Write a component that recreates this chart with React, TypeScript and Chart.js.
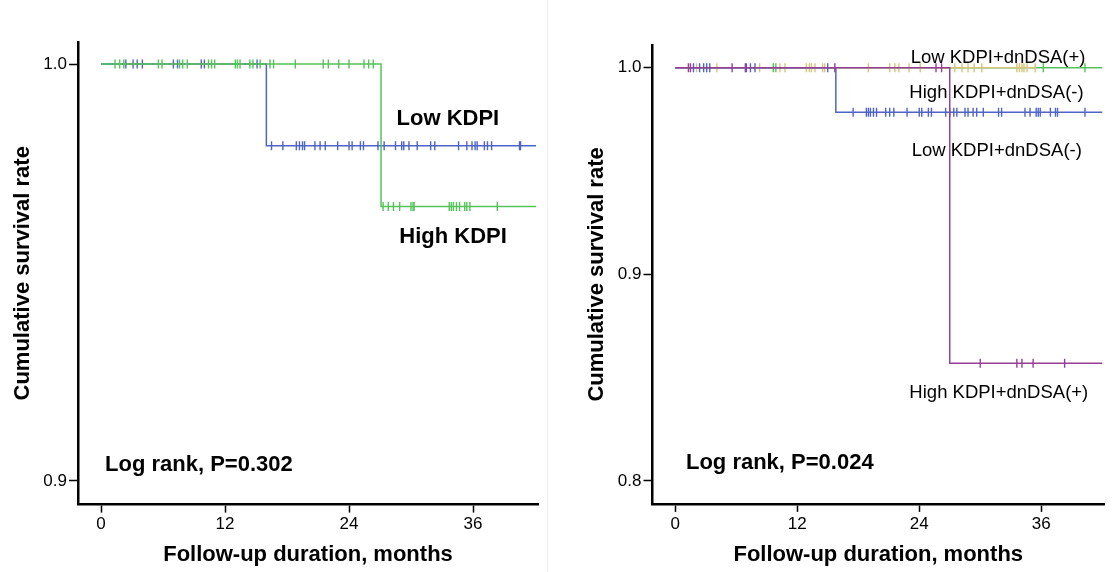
import React, { useEffect, useRef } from "react";
import { Chart, registerables } from "chart.js";

Chart.register(...registerables);

const FONT = '"Liberation Sans", Arial, Helvetica, sans-serif';

// ---- shared tick labels ----
const X_TICKS = [0, 12, 24, 36];
const Y_TICKS_LEFT = [0.9, 1.0];
const Y_TICKS_RIGHT = [0.8, 0.9, 1.0];

// ---- Left panel: KDPI groups ----
const lowKdpiEvents = [16.0];
const lowKdpiSurvival = [0.9804];
const lowKdpiEnd = 42.1;
const lowKdpiCensored = [
  2.4, 3.1, 3.5, 4.0, 7.0, 7.4, 9.7, 10.0, 15.1,
  16.5, 17.6, 18.9, 19.2, 19.5, 19.7, 20.7, 21.2, 21.7, 22.9, 24.0, 24.3, 25.1, 25.4,
  26.8, 27.4, 28.5, 29.1, 29.3, 29.8, 30.6, 31.9, 32.3, 34.6, 35.4, 35.9, 36.2, 36.4,
  37.1, 37.4, 37.8, 40.5, 40.6,
];

const highKdpiEvents = [27.1];
const highKdpiSurvival = [0.9658];
const highKdpiEnd = 42.1;
const highKdpiCensored = [
  1.35, 1.8, 2.2, 5.55, 5.9, 7.6, 7.9, 8.35, 10.4, 10.7, 11.0, 13.0, 13.2, 13.45, 14.4,
  14.7, 15.4, 16.35, 16.7, 18.8, 21.5, 22.0, 23.0, 24.0, 25.45, 25.9, 26.35,
  27.3, 27.8, 28.3, 28.9, 30.0, 30.2, 30.3, 33.7, 33.9, 34.1, 34.4, 34.7, 35.2, 35.4,
  35.7, 38.35,
];

// ---- Right panel: KDPI x dnDSA groups ----
const lowNegEvents = [15.8];
const lowNegSurvival = [0.9784];
const lowNegEnd = 42.0;
const lowNegCensored = [
  1.8, 2.4, 2.8, 3.1, 3.4, 6.9, 7.4, 7.85, 15.0,
  17.5, 18.8, 19.0, 19.2, 19.5, 19.8, 20.7, 21.1, 21.5, 22.8, 24.0, 24.25, 24.9, 25.2,
  26.6, 27.0, 27.4, 27.7, 28.5, 28.8, 29.3, 29.65, 30.3, 31.8, 32.1, 34.4, 34.9, 35.5,
  35.7, 35.9, 36.9, 37.4, 37.6, 40.3,
];

const highNegEvents: number[] = [];
const highNegSurvival: number[] = [];
const highNegEnd = 35.4;
const highNegCensored = [
  2.1, 4.1, 8.3, 10.3, 10.8, 12.9, 13.2, 13.4, 13.75, 14.5, 14.7, 19.0, 21.1, 21.6, 22.0,
  23.0, 24.1, 27.5, 28.2, 28.8, 29.4, 30.15, 33.6, 33.85, 34.1, 34.3, 34.6, 35.4,
];

const lowPosEvents: number[] = [];
const lowPosSurvival: number[] = [];
const lowPosEnd = 42.0;
const lowPosCensored = [9.65, 9.9, 36.2, 40.3];

const highPosEvents = [27.0];
const highPosSurvival = [0.857];
const highPosEnd = 42.0;
const highPosCensored = [1.3, 1.5, 5.6, 7.0, 15.7, 25.65, 26.2, 30.0, 33.6, 34.1, 35.2, 38.3];

// ---- colours ----
const BLUE = "#4f64c6";
const GREEN = "#55c25a";
const PURPLE = "#973f96";
const TAN = "#d4c47e";

function survAt(t: number, events: number[], surv: number[]) {
  let s = 1;
  for (let i = 0; i < events.length; i++) if (events[i] <= t) s = surv[i];
  return s;
}

function groupDatasets(events: number[], surv: number[], end: number, censored: number[], color: string) {
  const curve = [{ x: 0, y: 1 }];
  events.forEach((t, i) => curve.push({ x: t, y: surv[i] }));
  curve.push({ x: end, y: events.length ? surv[surv.length - 1] : 1 });
  return [
    {
      type: "scatter",
      data: censored.map((t) => ({ x: t, y: survAt(t, events, surv) })),
      showLine: false,
      pointStyle: "line",
      rotation: 90,
      pointRadius: 4.5,
      pointHoverRadius: 4.5,
      borderWidth: 1.4,
      pointBorderWidth: 1.4,
      borderColor: color,
      pointBorderColor: color,
      backgroundColor: color,
    },
    {
      type: "scatter",
      data: curve,
      showLine: true,
      stepped: "before",
      pointRadius: 0,
      pointHoverRadius: 0,
      borderWidth: 1.5,
      borderColor: color,
      backgroundColor: color,
      fill: false,
    },
  ];
}

type Note = { text: string; x: number; y: number; bold: boolean; size: number };

function notesPlugin(notes: Note[]) {
  return {
    id: "notes",
    afterDatasetsDraw(chart: any) {
      const ctx = chart.ctx;
      const xs = chart.scales.x;
      const ys = chart.scales.y;
      notes.forEach((n) => {
        ctx.save();
        ctx.font = `${n.bold ? "bold " : ""}${n.size}px ${FONT}`;
        ctx.fillStyle = "#000";
        ctx.textAlign = "left";
        ctx.textBaseline = "alphabetic";
        ctx.fillText(n.text, xs.getPixelForValue(n.x), ys.getPixelForValue(n.y));
        ctx.restore();
      });
    },
  };
}

type PanelCfg = {
  datasets: any[];
  xMin: number;
  xMax: number;
  yMin: number;
  yMax: number;
  yTicks: number[];
  padTop: number;
  padRight: number;
  yAxisWidth: number;
  xAxisHeight: number;
  yTitlePad: number;
  notes: Note[];
};

function buildChart(canvas: HTMLCanvasElement, c: PanelCfg) {
  return new Chart(canvas, {
    type: "scatter",
    data: { datasets: c.datasets as any },
    plugins: [notesPlugin(c.notes) as any],
    options: {
      responsive: false,
      animation: false,
      events: [],
      layout: { padding: { top: c.padTop, right: c.padRight, left: 0, bottom: 0 } },
      plugins: { legend: { display: false }, tooltip: { enabled: false } },
      scales: {
        x: {
          type: "linear",
          min: c.xMin,
          max: c.xMax,
          afterBuildTicks: (s: any) => {
            s.ticks = X_TICKS.map((v) => ({ value: v }));
          },
          afterFit: (s: any) => {
            s.height = c.xAxisHeight;
          },
          ticks: {
            autoSkip: false,
            maxRotation: 0,
            padding: 2,
            color: "#000",
            font: { family: FONT, size: 17 },
            callback: (v: any) => String(v),
          },
          grid: {
            display: true,
            drawOnChartArea: false,
            drawTicks: true,
            tickLength: 8,
            tickWidth: 1.5,
            color: "#000",
          },
          border: { display: true, color: "#000", width: 2.5 },
          title: {
            display: true,
            text: "Follow-up duration, months",
            color: "#000",
            font: { family: FONT, size: 22, weight: "bold" },
            padding: { top: 0, bottom: 3.5 },
          },
        },
        y: {
          type: "linear",
          min: c.yMin,
          max: c.yMax,
          afterBuildTicks: (s: any) => {
            s.ticks = c.yTicks.map((v) => ({ value: v }));
          },
          afterFit: (s: any) => {
            s.width = c.yAxisWidth;
          },
          ticks: {
            autoSkip: false,
            padding: 2,
            color: "#000",
            font: { family: FONT, size: 17 },
            callback: (v: any) => Number(v).toFixed(1),
          },
          grid: {
            display: true,
            drawOnChartArea: false,
            drawTicks: true,
            tickLength: 9,
            tickWidth: 1.5,
            color: "#000",
          },
          border: { display: true, color: "#000", width: 2.5 },
          title: {
            display: true,
            text: "Cumulative survival rate",
            color: "#000",
            font: { family: FONT, size: 22, weight: "bold" },
            padding: { top: c.yTitlePad, bottom: 0 },
          },
        },
      },
    } as any,
  });
}

export default function App() {
  const leftRef = useRef<HTMLCanvasElement>(null);
  const rightRef = useRef<HTMLCanvasElement>(null);

  useEffect(() => {
    const left = buildChart(leftRef.current!, {
      datasets: [
        ...groupDatasets(highKdpiEvents, highKdpiSurvival, highKdpiEnd, highKdpiCensored, GREEN),
        ...groupDatasets(lowKdpiEvents, lowKdpiSurvival, lowKdpiEnd, lowKdpiCensored, BLUE),
      ],
      xMin: -2.23,
      xMax: 42.29,
      yMin: 0.89434,
      yMax: 1.00528,
      yTicks: Y_TICKS_LEFT,
      padTop: 42,
      padRight: 10,
      yAxisWidth: 78,
      xAxisHeight: 67.4,
      yTitlePad: 10,
      notes: [
        { text: "Low KDPI", x: 28.6, y: 0.98537, bold: true, size: 22 },
        { text: "High KDPI", x: 28.87, y: 0.957, bold: true, size: 22 },
        { text: "Log rank, P=0.302", x: 0.39, y: 0.90228, bold: true, size: 22 },
      ],
    });
    const right = buildChart(rightRef.current!, {
      datasets: [
        ...groupDatasets(highPosEvents, highPosSurvival, highPosEnd, highPosCensored, PURPLE),
        ...groupDatasets(lowNegEvents, lowNegSurvival, lowNegEnd, lowNegCensored, BLUE),
        ...groupDatasets(highNegEvents, highNegSurvival, highNegEnd, highNegCensored, TAN),
        ...groupDatasets(lowPosEvents, lowPosSurvival, lowPosEnd, lowPosCensored, GREEN),
      ],
      xMin: -2.23,
      xMax: 42.17,
      yMin: 0.7889,
      yMax: 1.011,
      yTicks: Y_TICKS_RIGHT,
      padTop: 45,
      padRight: 9,
      yAxisWidth: 104.5,
      xAxisHeight: 68.1,
      yTitlePad: 35.8,
      notes: [
        { text: "Low KDPI+dnDSA(+)", x: 23.16, y: 1.00242, bold: false, size: 18.5 },
        { text: "High KDPI+dnDSA(-)", x: 23.03, y: 0.98519, bold: false, size: 18.5 },
        { text: "Low KDPI+dnDSA(-)", x: 23.26, y: 0.95726, bold: false, size: 18.5 },
        { text: "High KDPI+dnDSA(+)", x: 23.03, y: 0.84, bold: false, size: 18.5 },
        { text: "Log rank, P=0.024", x: 1.06, y: 0.80576, bold: true, size: 22 },
      ],
    });
    return () => {
      left.destroy();
      right.destroy();
    };
  }, []);

  return (
    <div
      style={{
        position: "absolute",
        left: 0,
        top: 0,
        width: 1113,
        height: 572,
        background: "#fff",
        overflow: "hidden",
      }}
    >
      <canvas
        ref={leftRef}
        width={548}
        height={572}
        style={{ position: "absolute", left: 0, top: 0, width: 548, height: 572 }}
      />
      <div
        style={{ position: "absolute", left: 547, top: 0, width: 1, height: 572, background: "#f1f1f1" }}
      />
      <canvas
        ref={rightRef}
        width={565}
        height={572}
        style={{ position: "absolute", left: 548, top: 0, width: 565, height: 572 }}
      />
    </div>
  );
}
